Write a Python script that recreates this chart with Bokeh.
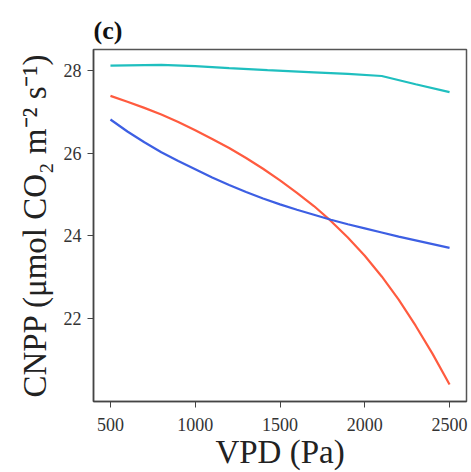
from bokeh.plotting import figure
from bokeh.embed import file_html
from bokeh.resources import INLINE
from bokeh.models import Range1d, FixedTicker

vpd = [500, 600, 700, 800, 900, 1000, 1100, 1200, 1300, 1400, 1500,
       1600, 1700, 1800, 1900, 2000, 2100, 2200, 2300, 2400, 2500]
red_vals = [27.38, 27.24, 27.09, 26.93, 26.75, 26.55, 26.34, 26.12, 25.88, 25.62, 25.34,
            25.04, 24.72, 24.36, 23.96, 23.52, 23.02, 22.46, 21.83, 21.15, 20.41]
blue_vals = [26.81, 26.52, 26.26, 26.02, 25.81, 25.61, 25.41, 25.23, 25.06, 24.90, 24.76,
             24.63, 24.51, 24.39, 24.28, 24.18, 24.08, 23.98, 23.89, 23.80, 23.71]
vpd_cyan = [500, 800, 1000, 1200, 1426, 1700, 1900, 2100, 2300, 2500]
cyan_vals = [28.11, 28.13, 28.10, 28.05, 28.00, 27.95, 27.91, 27.86, 27.66, 27.47]
x_ticks = [500, 1000, 1500, 2000, 2500]
y_ticks = [22, 24, 26, 28]

FONT = "Liberation Serif"

p = figure(width=468, height=472, output_backend="svg", toolbar_location=None,
           x_range=Range1d(400, 2600), y_range=Range1d(20, 28.5),
           min_border_left=93, min_border_right=2, min_border_top=49, min_border_bottom=10,
           title="(c)")

p.line(vpd_cyan, cyan_vals, line_color="#1fbfbf", line_width=2.2)
p.line(vpd, red_vals, line_color="#ff5b3f", line_width=2.2)
p.line(vpd, blue_vals, line_color="#3d5fe3", line_width=2.2)

p.title.text_font = FONT
p.title.text_font_size = "26px"
p.title.text_font_style = "bold"
p.title.align = "left"
p.title.offset = 0
p.title.text_color = "#111111"

p.xgrid.visible = False
p.ygrid.visible = False
p.outline_line_color = "#555555"
p.outline_line_width = 1.5

for ax in (p.xaxis[0], p.yaxis[0]):
    ax.axis_line_color = "#444444"
    ax.axis_line_width = 1.5
    ax.major_tick_line_color = "#444444"
    ax.major_tick_out = 6
    ax.major_tick_in = 0
    ax.minor_tick_line_color = None
    ax.major_label_text_font = FONT
    ax.major_label_text_font_size = "18px"
    ax.major_label_text_color = "#333333"
    ax.axis_label_text_font = FONT
    ax.axis_label_text_font_size = "33px"
    ax.axis_label_text_font_style = "normal"
    ax.axis_label_text_color = "#222222"

p.xaxis.major_label_standoff = 10
p.yaxis.major_label_standoff = 6
p.xaxis.ticker = FixedTicker(ticks=x_ticks)
p.yaxis.ticker = FixedTicker(ticks=y_ticks)
p.xaxis.axis_label = "VPD (Pa)"
p.yaxis.axis_label = "CNPP (\u03bcmol CO\u2082 m\u207b\u00b2 s\u207b\u00b9)"
p.xaxis.axis_label_standoff = 0
p.yaxis.axis_label_standoff = 8

open("out.html", "w").write(file_html(p, INLINE))
